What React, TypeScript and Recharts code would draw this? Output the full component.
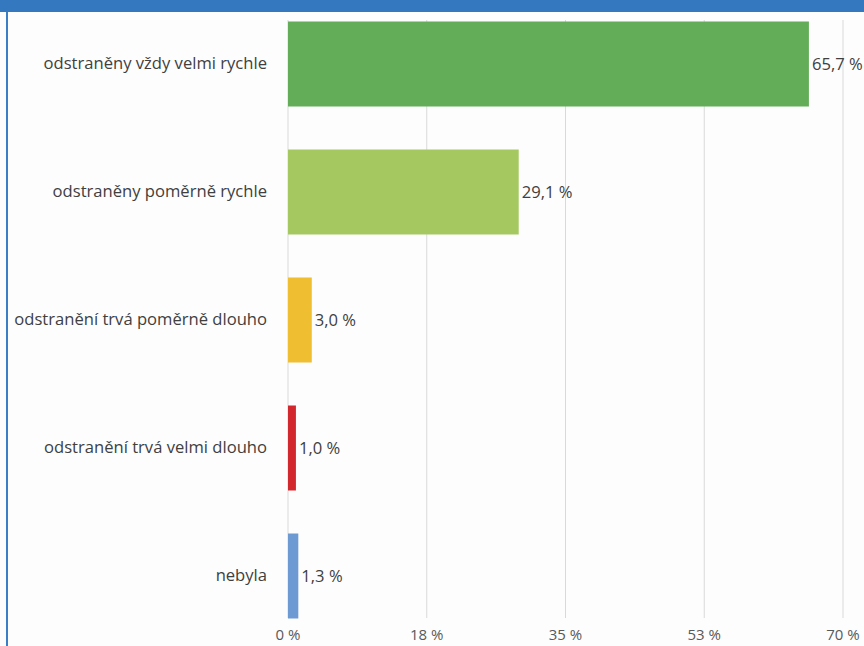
import { Bar, BarChart, CartesianGrid, Cell, LabelList, XAxis, YAxis } from "recharts";

const categories = [
  "odstraněny vždy velmi rychle",
  "odstraněny poměrně rychle",
  "odstranění trvá poměrně dlouho",
  "odstranění trvá velmi dlouho",
  "nebyla",
];
const values = [65.7, 29.1, 3.0, 1.0, 1.3];
const barColors = ["#63ad58", "#a5c960", "#efbe31", "#d2272d", "#6e9ad3"];
const xTicks = [0, 17.5, 35, 52.5, 70];

const data = categories.map((name, i) => ({ name, value: values[i] }));

const font = '"Open Sans", sans-serif';

export default function App() {
  return (
    <div
      style={{
        position: "absolute",
        left: 0,
        top: 0,
        width: 864,
        height: 646,
        background: "#fdfdfd",
        overflow: "hidden",
        fontFamily: font,
      }}
    >
      <div style={{ position: "absolute", left: 0, top: 0, width: 864, height: 12, background: "#3478bf" }} />
      <div style={{ position: "absolute", left: 6, top: 12, width: 2, height: 634, background: "#3a7fc6" }} />
      <BarChart
        width={864}
        height={646}
        data={data}
        layout="vertical"
        margin={{ top: 20, right: 21, bottom: 0, left: 8 }}
        style={{ position: "absolute", left: 0, top: 0 }}
      >
        <CartesianGrid horizontal={false} stroke="#d9d9d9" />
        <XAxis
          type="number"
          domain={[0, 70]}
          ticks={xTicks}
          tickFormatter={(v: number) => `${Math.round(v)} %`}
          axisLine={false}
          tickLine={false}
          tickMargin={5}
          height={28}
          tick={{ fontSize: 15, fill: "#595959", fontFamily: font }}
          interval={0}
        />
        <YAxis
          type="category"
          dataKey="name"
          width={280}
          axisLine={false}
          tickLine={false}
          tickMargin={15}
          padding={{ top: -20.5, bottom: -21.5 }}
          tick={{ fontSize: 16.6, fill: "#404040", fontFamily: font }}
          interval={0}
        />
        <Bar dataKey="value" barSize={85} isAnimationActive={false}>
          {data.map((d, i) => (
            <Cell key={d.name} fill={barColors[i]} />
          ))}
          <LabelList
            dataKey="value"
            position="right"
            offset={3}
            formatter={(v: number) => `${v.toFixed(1).replace(".", ",")} %`}
            style={{ fontSize: 16.6, fill: "#404040", fontFamily: font }}
          />
        </Bar>
      </BarChart>
    </div>
  );
}
